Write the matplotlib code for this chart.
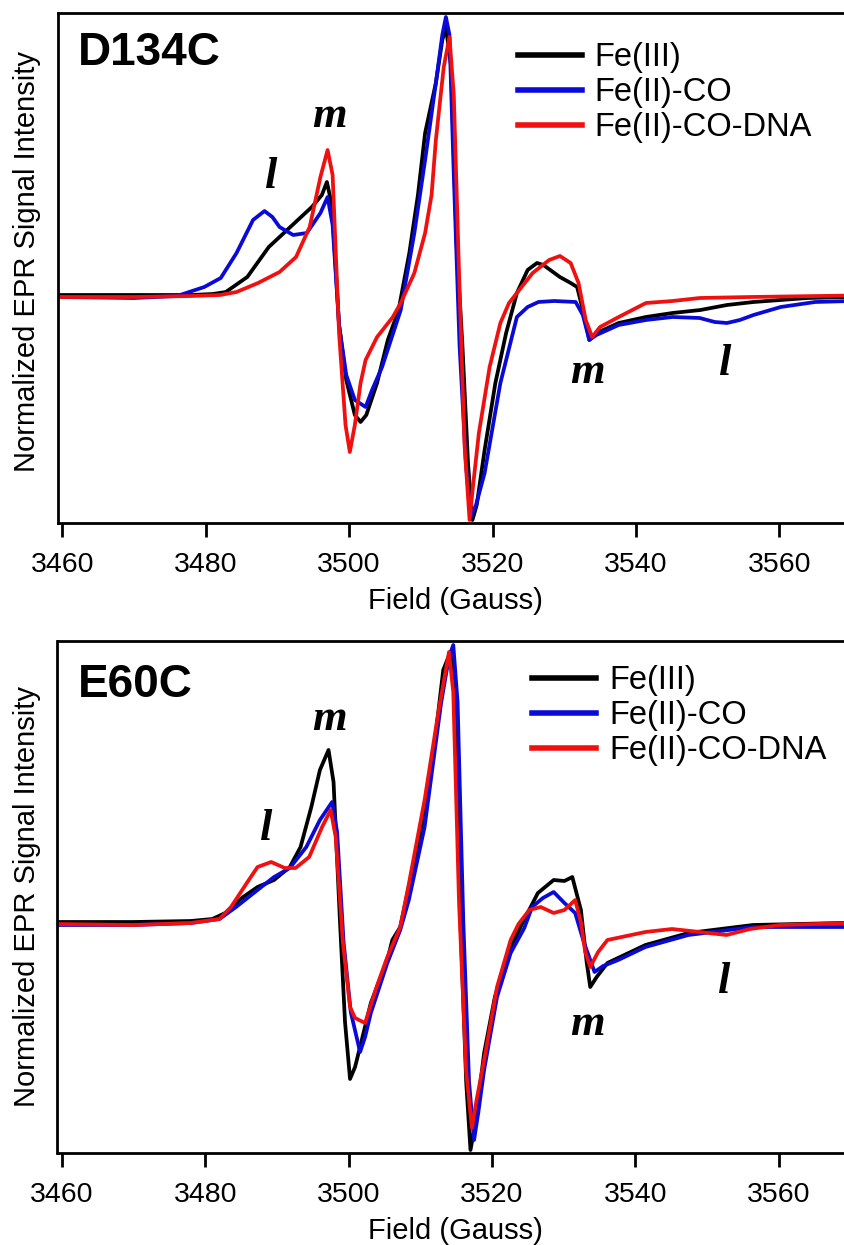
import matplotlib
matplotlib.use("Agg")
from matplotlib import pyplot as plt

plt.rcParams['font.family'] = ['Liberation Sans', 'DejaVu Sans']

series_names = ["Fe(III)", "Fe(II)-CO", "Fe(II)-CO-DNA"]
series_colors = ["#000000", "#0a0ad8", "#f01010"]

# D134C
d134c_fe3_x = [3459.4, 3470, 3478, 3481, 3482.8, 3485.8, 3488.8, 3491.8, 3494.8, 3496.2, 3496.9, 3497.6,
               3498.6, 3499.6, 3500.8, 3501.6, 3502.4, 3503.9, 3505.4, 3506.9, 3508.4, 3509.6, 3510.6,
               3512.1, 3513.0, 3513.5, 3514.2, 3515.0, 3515.8, 3516.6, 3517.2, 3517.8, 3518.9, 3520.4,
               3521.9, 3523.4, 3524.9, 3526.2, 3527.1, 3529.4, 3530.9, 3531.8, 3532.6, 3533.5, 3534.5,
               3537.6, 3541.4, 3545.1, 3549, 3552.7, 3556.4, 3563.9, 3575]
d134c_fe3_y = [0.0, 0.0, 0.0, 0.01, 0.03, 0.18, 0.48, 0.68, 0.88, 1.0, 1.13, 0.9,
               -0.3, -0.85, -1.2, -1.27, -1.2, -0.88, -0.45, -0.15, 0.42, 1.0, 1.62,
               2.12, 2.55, 2.68, 2.3, 0.5, -0.5, -1.7, -2.25, -2.1, -1.55, -0.88,
               -0.38, 0.02, 0.25, 0.32, 0.3, 0.18, 0.12, 0.08, -0.15, -0.45, -0.38,
               -0.28, -0.22, -0.18, -0.15, -0.1, -0.07, -0.03, -0.01]

d134c_co_x = [3459.4, 3470, 3476, 3479.8, 3482.1, 3484.3, 3486.6, 3488.2, 3489.3, 3490.3, 3492.2, 3494.1,
              3496.0, 3497.0, 3497.7, 3498.6, 3499.6, 3500.8, 3502.3, 3503.2, 3504.6, 3507.2, 3509.1,
              3510.6, 3512.1, 3513.0, 3513.5, 3514.0, 3514.6, 3515.4, 3516.3, 3517.0, 3517.7, 3518.9,
              3521.1, 3523.4, 3524.9, 3526.4, 3528.6, 3531.6, 3532.6, 3533.5, 3534.5, 3537.6, 3541.4,
              3545.1, 3548.9, 3551, 3552.7, 3554.5, 3556.4, 3560.2, 3565, 3575]
d134c_co_y = [-0.02, -0.03, -0.01, 0.08, 0.17, 0.42, 0.75, 0.84, 0.78, 0.68, 0.6, 0.62,
              0.82, 0.98, 0.7, -0.3, -0.8, -1.05, -1.12, -0.95, -0.72, -0.15, 0.62,
              1.35, 2.12, 2.6, 2.78, 2.6, 1.2, -0.5, -1.7, -2.22, -2.1, -1.78,
              -0.88, -0.22, -0.12, -0.07, -0.06, -0.07, -0.2, -0.45, -0.4, -0.3, -0.25,
              -0.22, -0.23, -0.27, -0.28, -0.25, -0.2, -0.12, -0.07, -0.05]

d134c_dna_x = [3459.4, 3470, 3478, 3482, 3484.3, 3487.3, 3490.3, 3492.6, 3494.5, 3496.0, 3497.0, 3497.7,
               3498.6, 3499.5, 3500.1, 3500.8, 3501.6, 3502.3, 3503.9, 3506.1, 3507.2, 3509.1, 3510.6,
               3511.5, 3512.1, 3513.2, 3514.0, 3514.6, 3515.3, 3516.1, 3516.8, 3517.3, 3518.1, 3519.6,
               3521.1, 3522.3, 3523.4, 3525.6, 3527.9, 3529.4, 3530.9, 3532.0, 3533.0, 3533.9, 3535,
               3537.6, 3541.4, 3545.1, 3548.9, 3556, 3575]
d134c_dna_y = [-0.02, -0.02, -0.01, 0.0, 0.03, 0.12, 0.23, 0.38, 0.68, 1.18, 1.45, 1.2,
               -0.38, -1.3, -1.57, -1.3, -0.88, -0.65, -0.42, -0.22, -0.08, 0.22, 0.62,
               1.0, 1.55, 2.28, 2.58, 2.0, 0.3, -1.5, -2.25, -1.9, -1.38, -0.72,
               -0.28, -0.08, 0.02, 0.22, 0.35, 0.39, 0.32, 0.12, -0.25, -0.42, -0.32,
               -0.22, -0.08, -0.06, -0.03, -0.02, 0.0]

# E60C
e60c_fe3_x = [3459.4, 3470, 3478, 3481, 3482.8, 3485.1, 3487.3, 3489.6, 3491.8, 3493.3, 3494.8, 3496.0,
              3497.2, 3497.9, 3498.8, 3499.5, 3500.2, 3500.9, 3501.6, 3503.1, 3505.4, 3506.1, 3507.2,
              3508.4, 3510.6, 3512.1, 3513.2, 3514.2, 3514.8, 3515.6, 3516.4, 3517.0, 3517.7, 3518.9,
              3520.4, 3522.3, 3524.1, 3526.4, 3528.6, 3530.1, 3531.2, 3532.4, 3533.2, 3533.7, 3534.6,
              3536.1, 3541.4, 3547.4, 3556.4, 3575]
e60c_fe3_y = [0.0, 0.0, 0.01, 0.03, 0.09, 0.24, 0.35, 0.42, 0.55, 0.75, 1.15, 1.52,
              1.72, 1.4, 0.0, -1.0, -1.57, -1.45, -1.25, -0.81, -0.38, -0.18, -0.05,
              0.35, 1.09, 1.85, 2.52, 2.7, 2.3, 0.0, -1.6, -2.28, -2.0, -1.31,
              -0.75, -0.31, -0.03, 0.29, 0.42, 0.41, 0.45, 0.12, -0.4, -0.65, -0.55,
              -0.41, -0.23, -0.11, -0.03, 0.0]

e60c_co_x = [3459.4, 3470, 3478, 3482, 3484.3, 3487.3, 3489.6, 3491.8, 3494.1, 3496.0, 3497.7, 3498.4,
             3499.3, 3500.3, 3501.6, 3502.3, 3503.1, 3505.4, 3507.2, 3508.4, 3510.6, 3512.9, 3514.0,
             3514.6, 3515.2, 3516.0, 3516.8, 3517.5, 3518.1, 3518.9, 3520.7, 3522.6, 3524.5, 3525.6,
             3527.1, 3528.6, 3530.1, 3531.6, 3532.8, 3534.3, 3535.5, 3537.6, 3541.4, 3547.4, 3556.4, 3575]
e60c_co_y = [-0.03, -0.03, -0.01, 0.03, 0.15, 0.32, 0.45, 0.54, 0.75, 1.02, 1.2, 0.9,
             -0.2, -0.9, -1.3, -1.15, -0.91, -0.41, -0.08, 0.22, 0.95, 2.19, 2.65,
             2.77, 2.2, 0.0, -1.6, -2.18, -1.9, -1.48, -0.75, -0.31, -0.06, 0.15,
             0.24, 0.3, 0.19, 0.09, -0.2, -0.5, -0.44, -0.38, -0.25, -0.13, -0.05, -0.05]

e60c_dna_x = [3459.4, 3470, 3478, 3482, 3483.6, 3485.8, 3487.3, 3489.2, 3491.1, 3492.6, 3494.5, 3496.3,
              3497.5, 3498.2, 3499.2, 3500.2, 3500.9, 3502.3, 3503.9, 3505.4, 3507.2, 3508.4, 3510.6,
              3512.5, 3514.0, 3514.6, 3515.4, 3516.4, 3517.2, 3517.8, 3518.9, 3520.7, 3522.6, 3523.7,
              3525.2, 3526.8, 3528.6, 3530.1, 3531.6, 3532.4, 3533.0, 3533.7, 3534.8, 3536.1, 3541.4,
              3545.1, 3549, 3552.7, 3556, 3560.2, 3575]
e60c_dna_y = [-0.02, -0.03, -0.01, 0.03, 0.15, 0.39, 0.55, 0.6, 0.54, 0.54, 0.65, 0.95,
              1.12, 0.85, -0.2, -0.85, -0.96, -1.01, -0.65, -0.35, -0.05, 0.38, 1.22,
              2.09, 2.7, 2.3, 0.2, -1.5, -2.06, -1.8, -1.38, -0.65, -0.18, -0.02,
              0.12, 0.15, 0.09, 0.12, 0.22, 0.0, -0.3, -0.45, -0.3, -0.18, -0.1,
              -0.07, -0.1, -0.13, -0.07, -0.03, 0.0]

# peak labels: (text, field, intensity)
d134c_marks = [("m", 3497.3, 1.68), ("l", 3489.0, 1.07), ("m", 3533.3, -0.88), ("l", 3552.3, -0.80)]
e60c_marks = [("m", 3497.3, 1.92), ("l", 3488.3, 0.82), ("m", 3533.3, -1.13), ("l", 3552.3, -0.71)]

W, H = 844, 1245
fig = plt.figure(figsize=(W / 100, H / 100), dpi=100)

panels = [
    ("D134C", [58, 12.7, 523], (-2.28, 2.823),
     [(d134c_fe3_x, d134c_fe3_y), (d134c_co_x, d134c_co_y), (d134c_dna_x, d134c_dna_y)],
     d134c_marks, (0.555, 0.942), 0.8975, 0.513),
    ("E60C", [57.5, 640.7, 1153], (-2.31, 2.813),
     [(e60c_fe3_x, e60c_fe3_y), (e60c_co_x, e60c_co_y), (e60c_dna_x, e60c_dna_y)],
     e60c_marks, (0.573, 0.952), 0.890, 0.5),
]

xmin, xmax = 3459.4, 3575
px_per_g = 7.17

for name, (left, top, bottom), ylim, curves, marks, leg_pos, name_y, ylab_y in panels:
    width = (xmax - xmin) * px_per_g
    ax = fig.add_axes([left / W, 1 - bottom / H, width / W, (bottom - top) / H])
    for (xs, ys), lab, col in zip(curves, series_names, series_colors):
        ax.plot(xs, ys, color=col, lw=2.7, label=lab, solid_joinstyle='round')
    ax.set_xlim(xmin, xmax)
    ax.set_ylim(*ylim)
    ax.set_xticks([3460, 3480, 3500, 3520, 3540, 3560])
    ax.set_yticks([])
    ax.tick_params(axis='x', direction='out', length=10, width=2, labelsize=20.5, pad=11)
    for s in ax.spines.values():
        s.set_linewidth(2)
    ax.set_xlabel("Field (Gauss)", fontsize=21)
    ax.xaxis.set_label_coords(0.48, -0.125)
    ax.set_ylabel("Normalized EPR Signal Intensity", fontsize=21, va='center')
    ax.yaxis.set_label_coords(-0.0374, ylab_y)
    ax.text(0.024, name_y, name, transform=ax.transAxes, fontsize=33,
            fontweight='bold', va='baseline', ha='left')
    for t, fx, fy in marks:
        ax.text(fx, fy, t, fontsize=32, family='Liberation Serif', fontweight='bold',
                fontstyle='italic', ha='center', va='baseline')
    ax.legend(loc='upper left', bbox_to_anchor=leg_pos, frameon=False, fontsize=23.5,
              handlelength=1.95, handletextpad=0.4, labelspacing=0.12, borderpad=0,
              borderaxespad=0)
    for h in ax.get_legend().get_lines():
        h.set_linewidth(4)

fig.savefig("out.png", dpi=100)
